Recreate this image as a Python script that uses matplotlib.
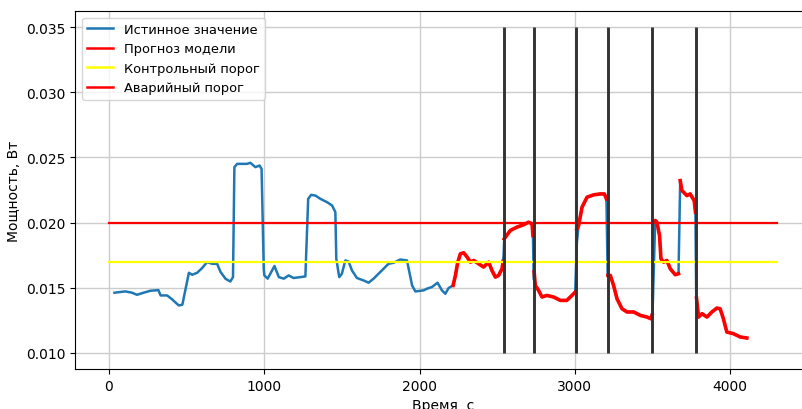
import numpy as np
from matplotlib import pyplot as plt

# истинное значение мощности
true_t = [36, 106, 149, 181, 223, 267, 319, 333, 375, 407, 450, 473, 494, 515, 536,
          568, 600, 632, 665, 697, 719, 751, 782, 799, 808, 826, 889, 911, 943, 970,
          983, 997, 1001, 1022, 1066, 1094, 1126, 1157, 1189, 1233, 1265, 1283, 1302,
          1330, 1362, 1404, 1437, 1458, 1464, 1483, 1500, 1522, 1543, 1565, 1597, 1640,
          1672, 1704, 1736, 1768, 1800, 1833, 1876, 1919, 1952, 1973, 2026, 2048, 2080,
          2116, 2144, 2166, 2187, 2216, 2231, 2246, 2263, 2284, 2306, 2328, 2349, 2381,
          2412, 2445, 2466, 2488, 2509, 2531, 2541, 2545, 2584, 2627, 2670, 2702, 2724,
          2730, 2735, 2745, 2766, 2788, 2820, 2863, 2906, 2948, 2981, 3002, 3013, 3024,
          3046, 3078, 3121, 3164, 3190, 3203, 3211, 3228, 3249, 3271, 3303, 3335, 3378,
          3421, 3464, 3489, 3500, 3517, 3528, 3545, 3554, 3571, 3592, 3614, 3646, 3667,
          3678, 3689, 3721, 3742, 3768, 3776, 3781, 3796, 3818, 3850, 3882, 3914, 3935,
          3956, 3978, 4021, 4064, 4107]
true_p = [0.01461, 0.01471, 0.01461, 0.01445, 0.01461, 0.01476, 0.01481, 0.0144, 0.0144,
          0.0141, 0.01363, 0.01369, 0.01492, 0.01614, 0.01599, 0.01614, 0.0165, 0.01696,
          0.01683, 0.01683, 0.0162, 0.01568, 0.01547, 0.01581, 0.02426, 0.02451, 0.02451,
          0.02459, 0.02426, 0.02438, 0.02412, 0.01645, 0.01594, 0.01569, 0.01666, 0.01581,
          0.01569, 0.01594, 0.01574, 0.01581, 0.01586, 0.02182, 0.02213, 0.02207, 0.02182,
          0.02157, 0.02131, 0.0208, 0.01722, 0.01581, 0.01607, 0.01709, 0.01701, 0.01632,
          0.01574, 0.01555, 0.01538, 0.01569, 0.01607, 0.01645, 0.01683, 0.01691, 0.01716,
          0.01709, 0.01517, 0.01471, 0.01479, 0.01492, 0.01505, 0.01538, 0.01479, 0.01453,
          0.01497, 0.01517, 0.01594, 0.01696, 0.0176, 0.01768, 0.01735, 0.01696, 0.01709,
          0.01683, 0.01658, 0.01696, 0.01632, 0.01581, 0.01594, 0.01645, 0.01747, 0.01875,
          0.01939, 0.01965, 0.01983, 0.02003, 0.0199, 0.019, 0.01568, 0.01517, 0.01479,
          0.01428, 0.0144, 0.01428, 0.01402, 0.01402, 0.0144, 0.01466, 0.0185, 0.01977,
          0.02118, 0.02195, 0.02213, 0.0222, 0.0222, 0.02182, 0.01594, 0.01594, 0.01517,
          0.01415, 0.01338, 0.01313, 0.01313, 0.01287, 0.01274, 0.01261, 0.01313, 0.02016,
          0.02003, 0.019, 0.01722, 0.01696, 0.01709, 0.01645, 0.01599, 0.01607, 0.02322,
          0.02246, 0.02207, 0.0222, 0.02169, 0.0208, 0.0144, 0.01274, 0.013, 0.01274,
          0.01313, 0.01343, 0.01338, 0.01261, 0.01159, 0.01146, 0.01121, 0.01113]

# прогноз модели, разрывы (nan) на скачках
pred_t = [2216, 2231, 2246, 2263, 2284, 2306, 2328, 2349, 2381, 2412, 2445, 2466, 2488,
          2509, 2531, 2538, 2541, 2545, 2584, 2627, 2670, 2702, 2724, 2730, 2732, 2738,
          2745, 2766, 2788, 2820, 2863, 2906, 2948, 2981, 3002, 3008, 3013, 3024, 3046,
          3078, 3121, 3164, 3190, 3203, 3207, 3213, 3228, 3249, 3271, 3303, 3335, 3378,
          3421, 3464, 3489, 3497, 3505, 3512, 3517, 3528, 3545, 3554, 3571, 3592, 3614,
          3646, 3667, 3674, 3678, 3689, 3721, 3742, 3768, 3776, 3779, 3783, 3796, 3818,
          3850, 3882, 3914, 3935, 3956, 3978, 4021, 4064, 4107]
pred_p = [0.01517, 0.01594, 0.01696, 0.0176, 0.01768, 0.01735, 0.01696, 0.01709, 0.01683,
          0.01658, 0.01696, 0.01632, 0.01581, 0.01594, 0.01645, 0.0170, np.nan, 0.01875,
          0.01939, 0.01965, 0.01983, 0.02003, 0.0199, 0.019, np.nan, 0.0162, 0.01517,
          0.01479, 0.01428, 0.0144, 0.01428, 0.01402, 0.01402, 0.0144, 0.01466, np.nan,
          0.0195, 0.01977, 0.02118, 0.02195, 0.02213, 0.0222, 0.0222, 0.02182, np.nan,
          0.01594, 0.01594, 0.01517, 0.01415, 0.01338, 0.01313, 0.01313, 0.01287, 0.01274,
          0.01261, 0.0129, np.nan, 0.0201, 0.02016, 0.02003, 0.019, 0.01722, 0.01696,
          0.01709, 0.01645, 0.01599, 0.01607, np.nan, 0.02322, 0.02246, 0.02207, 0.0222,
          0.02169, 0.0208, np.nan, 0.0142, 0.01274, 0.013, 0.01274, 0.01313, 0.01343,
          0.01338, 0.01261, 0.01159, 0.01146, 0.01121, 0.01113]

control_level = 0.017
alarm_level = 0.020
thr_t = [0, 4300]
events = [2541, 2736, 3006, 3210, 3499, 3779]

fig = plt.figure(figsize=(8.03, 4.10), dpi=100)
ax = fig.add_axes([0.094, 0.0976, 0.915, 0.873])

ax.plot(true_t, true_p, color='#1f77b4', linewidth=1.8, label='Истинное значение')
ax.plot(pred_t, pred_p, color='red', linewidth=2.6, label='Прогноз модели')
ax.plot(thr_t, [control_level] * 2, color='yellow', linewidth=1.6, label='Контрольный порог')
ax.plot(thr_t, [alarm_level] * 2, color='red', linewidth=1.6, label='Аварийный порог')
ax.vlines(events, 0.010, 0.035, color='#333333', linewidth=2.1)

ax.set_xlim(-215, 4515)
ax.set_ylim(0.00875, 0.03625)
ax.set_xticks([0, 1000, 2000, 3000, 4000])
ax.set_yticks([0.010, 0.015, 0.020, 0.025, 0.030, 0.035])
ax.grid(True, color='#cccccc', linewidth=1)
ax.set_axisbelow(True)
ax.set_xlabel('Время, с')
ax.set_ylabel('Мощность, Вт')
leg = ax.legend(loc='upper left', fontsize=9.4)
for h in leg.legend_handles:
    h.set_linewidth(1.8)

fig.savefig('out.png', dpi=100)
